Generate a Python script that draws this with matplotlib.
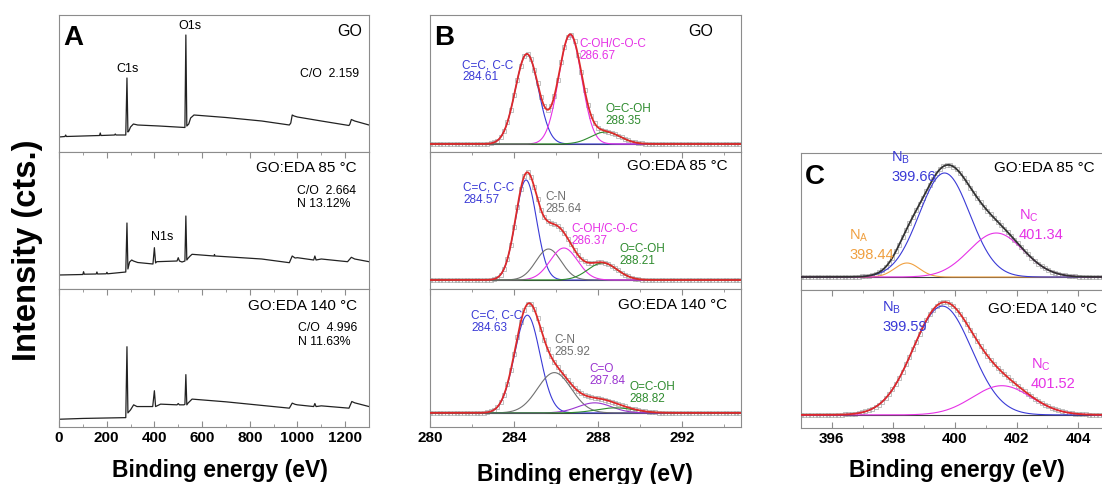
import numpy as np
import matplotlib
matplotlib.use('Agg')
import matplotlib.pyplot as plt
from matplotlib.ticker import MultipleLocator

plt.rcParams['font.family'] = ['Liberation Sans', 'DejaVu Sans']
plt.rcParams['mathtext.fontset'] = 'custom'
plt.rcParams['mathtext.rm'] = 'Liberation Sans'
plt.rcParams['mathtext.it'] = 'Liberation Sans:italic'
plt.rcParams['mathtext.bf'] = 'Liberation Sans:bold'

W, H = 1102, 484

# ---------------- survey spectra (panel A) ----------------
survey_go_e = [0, 25, 28, 31, 170, 173, 176, 233, 236, 239, 280, 285, 289, 293, 300,
               312, 330, 420, 528, 532, 536, 544, 552, 566, 700, 850, 966, 972, 978,
               986, 1000, 1100, 1216, 1220, 1226, 1240, 1300]
survey_go_i = [15, 15.5, 17, 15.5, 16.5, 19, 16.5, 17, 18, 17, 17, 74, 20, 21, 25,
               28, 27, 26, 24.5, 117, 26, 28, 34, 37, 34.5, 31, 27, 29, 37,
               36, 35, 31, 26.5, 28, 32.5, 31, 27]

survey_85_e = [0, 100, 103, 106, 156, 159, 162, 198, 201, 204, 280, 285, 289, 296, 305,
               312, 330, 394, 400, 405, 410, 495, 500, 505, 516, 528, 532, 536, 541,
               550, 558, 650, 652, 654, 850, 966, 978, 990, 1000, 1068, 1073, 1078,
               1100, 1210, 1226, 1240, 1300]
survey_85_i = [14, 14.5, 17.3, 14.8, 15, 17, 15, 15.2, 16.7, 15.2, 17, 66, 20, 27, 29,
               28, 26.5, 25, 41.3, 26, 27.3, 28, 31.3, 28, 27, 28, 73, 29, 30.7,
               33, 34.7, 33, 34.5, 33, 30, 26.3, 33, 31, 31.3, 29, 33, 29,
               30, 27.3, 31.7, 30, 27.3]

survey_140_e = [0, 100, 280, 285, 289, 300, 313, 327, 393, 400, 405, 426, 495, 500, 505,
                524, 528, 532, 536, 541, 558, 700, 966, 978, 990, 1000, 1068, 1073,
                1078, 1100, 1216, 1228, 1240, 1300]
survey_140_i = [7.7, 8.5, 9.3, 79.7, 14, 17, 22, 20.3, 20.3, 36, 20.3, 22.7, 22, 23.3, 22,
                22, 22.5, 52, 22, 23.7, 27.7, 25, 18.7, 23.7, 22.5, 22, 20.3, 23.3,
                20.3, 21, 18.7, 25.3, 24, 20.3]

# ---------------- C1s fits (panel B): centre eV, height, sigma ----------------
c1s_go_names = ['C=C, C-C', 'C-OH/C-O-C', 'O=C-OH']
c1s_go_centre = [284.61, 286.67, 288.35]
c1s_go_height = [90, 109, 12]
c1s_go_sigma = [0.55, 0.55, 0.7]
c1s_go_base = 8

c1s_85_names = ['C=C, C-C', 'C-N', 'C-OH/C-O-C', 'O=C-OH']
c1s_85_centre = [284.57, 285.64, 286.37, 288.21]
c1s_85_height = [100, 31, 32, 17]
c1s_85_sigma = [0.5, 0.6, 0.65, 0.7]
c1s_85_base = 9

c1s_140_names = ['C=C, C-C', 'C-N', 'C=O', 'O=C-OH']
c1s_140_centre = [284.63, 285.92, 287.84, 288.82]
c1s_140_height = [97, 40, 10, 5]
c1s_140_sigma = [0.6, 0.8, 0.8, 0.9]
c1s_140_base = 14

# ---------------- N1s fits (panel C) ----------------
n1s_85_names = ['A', 'B', 'C']
n1s_85_centre = [398.44, 399.66, 401.34]
n1s_85_height = [14, 104, 44]
n1s_85_sigma = [0.4, 0.82, 0.88]
n1s_85_base = 13

n1s_140_names = ['B', 'C']
n1s_140_centre = [399.59, 401.52]
n1s_140_height = [108, 29]
n1s_140_sigma = [0.95, 0.95]
n1s_140_base = 13

BLUE = '#3a3ad6'
MAG = '#e632e6'
GREEN = '#2e8b2e'
GRAY = '#707070'
PURPLE = '#9a35d0'
ORANGE = '#f0a040'
RED = '#dd2a2a'
SPINE = '#8c8c8c'

fig = plt.figure(figsize=(W / 100, H / 100), dpi=100)


def add_ax(x0, y0, x1, y1):
    return fig.add_axes([x0 / W, 1 - y1 / H, (x1 - x0) / W, (y1 - y0) / H])


def style(ax, idx, major, minor, bottom_labels):
    for s in ax.spines.values():
        s.set_color(SPINE)
        s.set_linewidth(0.8)
    ax.set_yticks([])
    ax.set_ylim(0, 137)
    ax.xaxis.set_major_locator(MultipleLocator(major))
    ax.xaxis.set_minor_locator(MultipleLocator(minor))
    ax.tick_params(axis='x', which='both', direction='in', color=SPINE,
                   top=idx > 0, bottom=bottom_labels, labelbottom=bottom_labels)
    ax.tick_params(axis='x', which='major', length=4, width=0.8, pad=3,
                   labelsize=11)
    ax.tick_params(axis='x', which='minor', length=2.5, width=0.6)
    for lab in ax.get_xticklabels():
        lab.set_fontweight('bold')


def gauss(x, c, h, s):
    return h * np.exp(-(x - c) ** 2 / (2 * s ** 2))


def fit_panel(ax, xr, step, base, centre, height, sigma, colors, env_color):
    xs = np.linspace(xr[0], xr[1], 1200)
    env = np.full_like(xs, base, dtype=float)
    xd = np.arange(xr[0], xr[1] + 1e-9, step)
    yd = base + sum(gauss(xd, c, h, s) for c, h, s in zip(centre, height, sigma))
    ax.plot(xd, yd, 's', ms=3.0, mfc='none', mec='#a8a8a8', mew=0.5, zorder=1)
    ax.axhline(base, color='#404040', lw=0.8, zorder=2)
    for c, h, s, col in zip(centre, height, sigma, colors):
        g = gauss(xs, c, h, s)
        env += g
        ax.plot(xs, base + g, color=col, lw=0.8, zorder=3)
    ax.plot(xs, env, color=env_color, lw=1.3, zorder=4)
    ax.set_xlim(*xr)


def ftext(x, y, s, **kw):
    fig.text(x / W, 1 - y / H, s, va='center', **kw)


# ---------------- panel A ----------------
rows = [(15, 152), (152, 289), (289, 427)]
surveys = [(survey_go_e, survey_go_i), (survey_85_e, survey_85_i),
           (survey_140_e, survey_140_i)]
for i, ((y0, y1), (e, v)) in enumerate(zip(rows, surveys)):
    ax = add_ax(59, y0, 369, y1)
    ax.plot(e, v, color='#222222', lw=0.9)
    ax.set_xlim(0, 1300)
    style(ax, i, 200, 100, i == 2)

# ---------------- panel B ----------------
b_sets = [
    (c1s_go_base, c1s_go_centre, c1s_go_height, c1s_go_sigma, [BLUE, MAG, GREEN]),
    (c1s_85_base, c1s_85_centre, c1s_85_height, c1s_85_sigma, [BLUE, GRAY, MAG, GREEN]),
    (c1s_140_base, c1s_140_centre, c1s_140_height, c1s_140_sigma, [BLUE, GRAY, PURPLE, GREEN]),
]
for i, ((y0, y1), (b, c, h, s, cols)) in enumerate(zip(rows, b_sets)):
    ax = add_ax(430, y0, 741, y1)
    fit_panel(ax, (280, 294.8), 0.16, b, c, h, s, cols, RED)
    style(ax, i, 4, 2, i == 2)

# ---------------- panel C ----------------
c_rows = [(153, 290), (290, 428)]
c_sets = [
    (n1s_85_base, n1s_85_centre, n1s_85_height, n1s_85_sigma, [ORANGE, BLUE, MAG], '#333333'),
    (n1s_140_base, n1s_140_centre, n1s_140_height, n1s_140_sigma, [BLUE, MAG], RED),
]
for i, ((y0, y1), (b, c, h, s, cols, ec)) in enumerate(zip(c_rows, c_sets)):
    ax = add_ax(801, y0, 1109, y1)
    fit_panel(ax, (395, 405), 0.11, b, c, h, s, cols, ec)
    style(ax, i, 2, 1, i == 1)

# ---------------- text ----------------
big = dict(fontsize=20, fontweight='bold')
ftext(63, 38, 'A', ha='left', **big)
ftext(434, 38, 'B', ha='left', **big)
ftext(805, 177, 'C', ha='left', **big)

ftext(28, 250, 'Intensity (cts.)', ha='center', rotation=90, fontsize=23.5,
      fontweight='bold')
for xc, yc in [(220, 471), (585, 474), (957, 471)]:
    ftext(xc, yc, 'Binding energy (eV)', ha='center', fontsize=16.5, fontweight='bold')

# panel A labels
ftext(190, 26, 'O1s', ha='center', fontsize=9)
ftext(128, 69, 'C1s', ha='center', fontsize=9)
ftext(162, 237, 'N1s', ha='center', fontsize=9)
ftext(362, 31, 'GO', ha='right', fontsize=11.5)
ftext(300, 74, 'C/O  2.159', ha='left', fontsize=8.8)
ftext(357, 168, 'GO:EDA 85 \u00b0C', ha='right', fontsize=11)
ftext(297, 191, 'C/O  2.664', ha='left', fontsize=8.8)
ftext(297, 204, 'N 13.12%', ha='left', fontsize=8.8)
ftext(357, 306, 'GO:EDA 140 \u00b0C', ha='right', fontsize=11)
ftext(298, 328, 'C/O  4.996', ha='left', fontsize=8.8)
ftext(298, 342, 'N 11.63%', ha='left', fontsize=8.8)

# panel B labels
ftext(713, 31, 'GO', ha='right', fontsize=11.5)
ftext(728, 166, 'GO:EDA 85 \u00b0C', ha='right', fontsize=11)
ftext(727, 305, 'GO:EDA 140 \u00b0C', ha='right', fontsize=11)
b_label_pos = [
    [(462, 65), (579, 44), (605, 109)],
    [(463, 188), (545, 197), (571, 229), (619, 249)],
    [(471, 316), (554, 340), (589, 369), (629, 387)],
]
b_names = [c1s_go_names, c1s_85_names, c1s_140_names]
for pos, names, (b, c, h, s, cols) in zip(b_label_pos, b_names, b_sets):
    for (xp, yp), n, cc, col in zip(pos, names, c, cols):
        ftext(xp, yp, n, ha='left', fontsize=8.5, color=col)
        ftext(xp, yp + 12, f'{cc:.2f}', ha='left', fontsize=8.5, color=col)

# panel C labels
ftext(1095, 168, 'GO:EDA 85 \u00b0C', ha='right', fontsize=11)
ftext(1097, 309, 'GO:EDA 140 \u00b0C', ha='right', fontsize=11)
c_label_pos = [[(849, 236), (891, 158), (1019, 216)], [(882, 308), (1031, 365)]]
c_names = [n1s_85_names, n1s_140_names]
for pos, names, (b, c, h, s, cols, ec) in zip(c_label_pos, c_names, c_sets):
    for (xp, yp), n, cc, col in zip(pos, names, c, cols):
        ftext(xp, yp, r'N$_{\mathregular{%s}}$' % n, ha='left', fontsize=10.5, color=col)
        ftext(xp, yp + 19, f'{cc:.2f}', ha='left', fontsize=10.5, color=col)

fig.savefig('out.png', dpi=100)
